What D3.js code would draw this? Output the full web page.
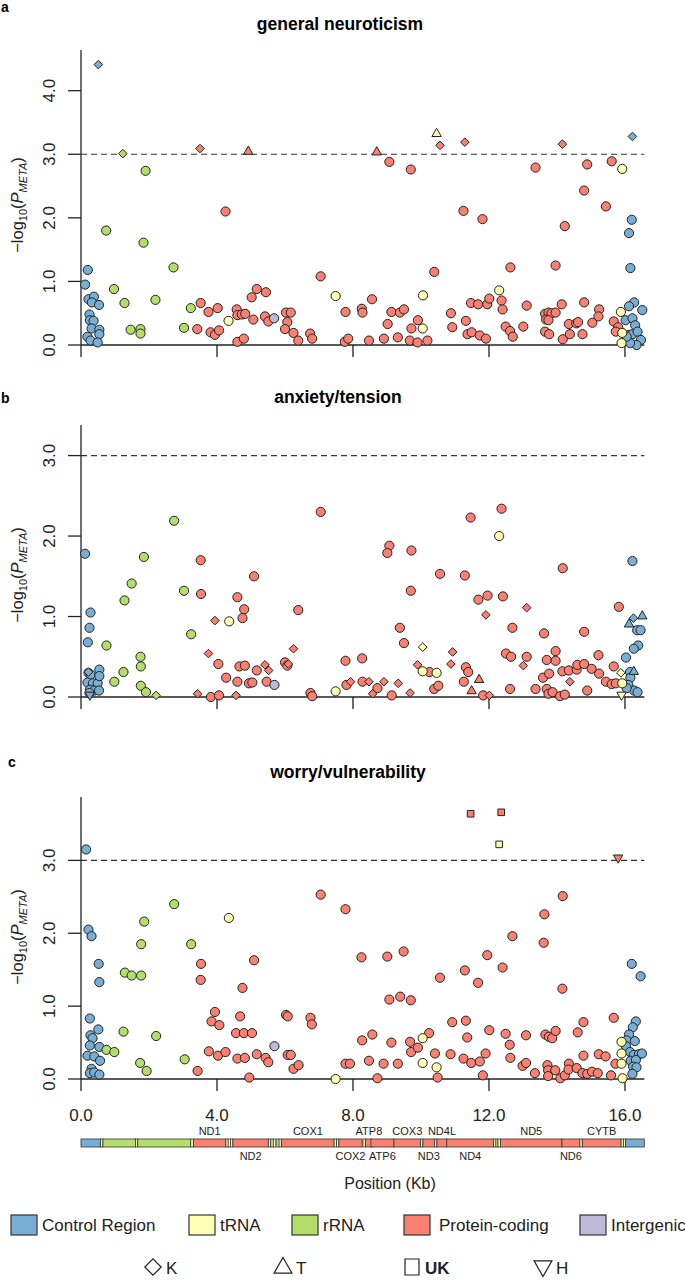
<!DOCTYPE html>
<html>
<head>
<meta charset="utf-8">
<script src="https://d3js.org/d3.v7.min.js"></script>
<style>
  body { margin: 0; background: #fff; }
  svg { display: block; font-family: "Liberation Sans", Arial, sans-serif; }
</style>
</head>
<body>
<svg id="chart" width="685" height="1280"></svg>
<script>
// ---- data ----
var regionKeys = ["C", "t", "r", "P", "I"];
var regionNames = ["Control Region", "tRNA", "rRNA", "Protein-coding", "Intergenic"];
var regionColors = ["#78aed6", "#ffffb3", "#b3de69", "#fb8072", "#bebada"];
var haploKeys = ["K", "T", "U", "H"];
var haploNames = ["K", "T", "UK", "H"];
var panelTitles = ["general neuroticism", "anxiety/tension", "worry/vulnerability"];
var panelLetters = ["a", "b", "c"];
var yMaxes = [4.64, 3.38, 3.87];
var yTickSets = [[0, 1, 2, 3, 4], [0, 1, 2, 3], [0, 1, 2, 3]];
var xTicks = [0, 4, 8, 12, 16];
var genomeKb = 16.569;
var threshold = 3;

// groups of [position Kb, -log10 P]; region C/t/r/P/I, marker o (circle) K T U H
var neuroticism = [
  {region: "C", marker: "o", pts: [[0.20,1.18],[0.12,0.95],[0.22,0.72],[0.38,0.76],[0.32,0.67],[0.53,0.63],[0.25,0.48],[0.26,0.39],[0.37,0.38],[0.31,0.26],[0.54,0.24],[0.54,0.17],[0.19,0.13],[0.28,0.07],[0.49,0.04],
    [16.20,1.97],[16.12,1.76],[16.16,1.21],[16.27,0.67],[16.12,0.61],[16.51,0.55],[16.02,0.39],[16.22,0.42],[16.30,0.31],[16.12,0.16],[16.22,0.17],[16.37,0.21],[16.47,0.08],[16.34,0.00],[16.15,0.03],[16.05,0.13]]},
  {region: "r", marker: "o", pts: [[1.90,2.74],[0.74,1.80],[1.84,1.61],[2.72,1.22],[0.97,0.88],[1.28,0.66],[2.19,0.71],[3.23,0.58],[1.46,0.24],[1.75,0.25],[1.75,0.18],[3.03,0.27]]},
  {region: "P", marker: "o", pts: [[4.25,2.10],[7.05,1.08],[3.52,0.66],[3.75,0.52],[4.02,0.58],[3.42,0.25],[3.81,0.20],[3.94,0.16],[4.06,0.23],[5.17,0.88],[5.44,0.83],[5.02,0.75],[4.58,0.56],[4.60,0.47],[4.73,0.48],[4.83,0.49],[5.07,0.40],[5.41,0.45],[5.51,0.37],[6.03,0.51],[6.17,0.51],[6.07,0.36],[6.00,0.25],[6.25,0.19],[6.39,0.07],[6.74,0.18],[6.80,0.10],[4.60,0.05],[4.79,0.10],[7.78,0.52],[7.76,0.05],[7.86,0.10],
    [9.07,2.88],[9.70,2.76],[13.37,2.79],[14.89,2.84],[15.61,2.89],[14.80,2.43],[15.44,2.18],[11.25,2.11],[11.81,1.98],[14.23,1.87],[10.39,1.15],[12.63,1.22],[13.96,1.25],[8.56,0.72],[8.26,0.57],[8.28,0.51],[9.13,0.52],[9.38,0.51],[9.50,0.56],[9.91,0.39],[9.02,0.33],[9.72,0.26],[8.91,0.10],[9.32,0.12],[9.67,0.07],[8.47,0.07],[9.90,0.04],[10.19,0.07],[10.88,0.50],[10.92,0.28],[11.32,0.38],[11.47,0.66],[11.68,0.64],[11.95,0.64],[12.01,0.73],[12.37,0.70],[12.40,0.56],[11.37,0.17],[11.49,0.20],[11.73,0.15],[11.91,0.10],[12.49,0.29],[12.62,0.22],[12.70,0.13],[13.01,0.29],[13.11,0.62],[13.65,0.49],[13.75,0.51],[13.84,0.50],[13.96,0.51],[13.68,0.40],[13.75,0.39],[13.65,0.21],[13.77,0.17],[14.14,0.64],[14.35,0.33],[14.57,0.34],[14.62,0.36],[14.17,0.09],[14.38,0.17],[14.75,0.17],[14.80,0.67],[15.24,0.56],[15.22,0.45],[15.04,0.35],[15.67,0.37],[15.80,0.28],[15.73,0.21]]},
  {region: "t", marker: "o", pts: [[4.34,0.38],[7.49,0.77],[15.92,2.77],[12.30,0.86],[10.06,0.78],[10.05,0.26],[15.88,0.52],[15.92,0.19],[15.90,0.03]]},
  {region: "I", marker: "o", pts: [[5.68,0.42]]},
  {region: "C", marker: "K", pts: [[0.51,4.41],[16.22,3.28]]},
  {region: "r", marker: "K", pts: [[1.23,3.01]]},
  {region: "P", marker: "K", pts: [[3.50,3.09],[10.56,3.14],[11.29,3.19],[14.16,3.16]]},
  {region: "P", marker: "T", pts: [[4.92,3.05],[8.70,3.04]]},
  {region: "t", marker: "T", pts: [[10.46,3.33]]}
];

var anxiety = [
  {region: "C", marker: "o", pts: [[0.12,1.78],[0.28,1.05],[0.25,0.86],[0.20,0.68],[0.22,0.30],[0.28,0.28],[0.54,0.34],[0.19,0.18],[0.35,0.17],[0.49,0.17],[0.54,0.26],[0.26,0.09],[0.39,0.08],[0.53,0.08],[0.25,0.05],
    [16.22,1.69],[16.36,0.83],[16.46,0.83],[16.39,0.64],[16.26,0.60],[16.03,0.49],[16.15,0.31],[16.16,0.24],[16.10,0.15],[16.27,0.08],[16.37,0.06],[16.05,0.11]]},
  {region: "r", marker: "o", pts: [[2.74,2.19],[1.85,1.74],[1.49,1.41],[1.28,1.20],[3.03,1.32],[3.24,0.78],[0.75,0.64],[1.75,0.50],[1.76,0.38],[1.25,0.31],[0.98,0.19],[1.76,0.14],[1.91,0.06]]},
  {region: "P", marker: "o", pts: [[3.52,1.70],[3.53,1.28],[5.09,1.50],[4.60,1.24],[4.80,1.09],[4.75,0.98],[6.39,1.08],[7.05,2.30],[4.04,0.41],[4.27,0.24],[4.60,0.19],[4.66,0.38],[4.82,0.39],[5.17,0.33],[4.94,0.17],[5.04,0.18],[5.46,0.19],[6.00,0.43],[6.07,0.39],[3.82,0.00],[4.06,0.02],[6.75,0.05],[6.80,0.01],[7.78,0.45],[7.81,0.15],
    [11.46,2.23],[12.37,2.34],[9.07,1.88],[9.01,1.79],[9.72,1.82],[10.56,1.53],[11.29,1.51],[9.70,1.32],[14.17,1.60],[11.69,1.21],[11.96,1.26],[12.41,1.25],[9.38,0.86],[12.69,0.86],[9.50,0.67],[13.62,0.79],[14.80,0.81],[15.82,1.12],[12.50,0.54],[12.65,0.50],[13.11,0.50],[13.96,0.57],[13.70,0.46],[13.96,0.45],[15.22,0.52],[8.27,0.48],[11.32,0.37],[11.39,0.31],[10.25,0.31],[13.59,0.24],[13.77,0.29],[14.16,0.32],[14.35,0.33],[14.58,0.34],[14.60,0.40],[14.80,0.41],[15.02,0.35],[15.24,0.29],[15.44,0.19],[15.61,0.16],[15.73,0.17],[15.67,0.38],[8.28,0.19],[8.72,0.11],[9.14,0.02],[10.39,0.10],[10.51,0.14],[11.26,0.19],[11.83,0.02],[12.62,0.10],[13.37,0.10],[13.70,0.10],[13.75,0.04],[13.87,0.06],[14.09,0.01],[14.23,0.03],[14.89,0.08]]},
  {region: "t", marker: "o", pts: [[4.36,0.94],[7.49,0.07],[12.30,2.00],[10.05,0.32],[10.46,0.30],[15.92,0.17]]},
  {region: "I", marker: "o", pts: [[5.69,0.15]]},
  {region: "C", marker: "K", pts: [[0.22,0.31],[16.25,0.98]]},
  {region: "C", marker: "T", pts: [[16.51,1.01],[16.12,0.91],[16.26,0.32]]},
  {region: "C", marker: "H", pts: [[0.26,0.02]]},
  {region: "r", marker: "K", pts: [[2.21,0.02]]},
  {region: "P", marker: "K", pts: [[3.94,0.95],[3.75,0.54],[6.25,0.60],[5.41,0.40],[5.52,0.33],[6.10,0.41],[3.43,0.04],[4.56,0.02],[7.93,0.19],[13.11,1.11],[11.91,1.02],[10.93,0.56],[9.90,0.40],[10.88,0.41],[13.01,0.39],[14.38,0.19],[8.47,0.19],[8.91,0.19],[9.33,0.17],[8.58,0.04],[9.68,0.05],[12.01,0.02]]},
  {region: "P", marker: "T", pts: [[11.71,0.22],[11.49,0.08]]},
  {region: "t", marker: "K", pts: [[10.05,0.62],[15.88,0.30]]},
  {region: "t", marker: "H", pts: [[15.90,0.02]]}
];

var worry = [
  {region: "C", marker: "o", pts: [[0.15,3.15],[0.22,2.05],[0.31,1.96],[0.52,1.58],[0.54,1.33],[0.26,0.83],[0.51,0.68],[0.28,0.60],[0.34,0.56],[0.26,0.46],[0.54,0.44],[0.19,0.32],[0.39,0.31],[0.56,0.25],[0.31,0.14],[0.26,0.08],[0.39,0.09],[0.54,0.06],
    [16.20,1.58],[16.46,1.41],[16.32,0.79],[16.23,0.71],[16.12,0.61],[16.05,0.53],[16.03,0.45],[16.29,0.52],[16.15,0.37],[16.26,0.33],[16.41,0.34],[16.50,0.35],[16.17,0.25],[16.32,0.26],[16.24,0.17],[16.34,0.16],[16.22,0.07]]},
  {region: "r", marker: "o", pts: [[2.74,2.40],[1.86,2.16],[1.77,1.85],[3.24,1.85],[1.29,1.46],[1.49,1.42],[1.77,1.42],[1.25,0.65],[2.21,0.59],[0.75,0.40],[0.98,0.37],[1.74,0.22],[1.93,0.11],[3.05,0.27]]},
  {region: "P", marker: "o", pts: [[7.05,2.53],[7.78,2.33],[3.53,1.58],[3.52,1.36],[5.09,1.63],[4.75,1.25],[3.94,0.92],[3.84,0.79],[4.07,0.74],[4.68,0.86],[6.03,0.88],[6.08,0.86],[6.75,0.84],[6.79,0.75],[4.56,0.63],[4.79,0.63],[5.03,0.63],[3.76,0.38],[4.03,0.32],[4.25,0.37],[4.60,0.28],[4.82,0.29],[5.17,0.34],[5.43,0.29],[5.51,0.23],[6.08,0.33],[6.17,0.33],[6.25,0.14],[6.40,0.19],[7.78,0.21],[7.91,0.21],[3.43,0.11],[4.95,0.02],
    [14.17,2.51],[13.63,2.26],[13.61,1.87],[12.69,1.96],[8.25,1.67],[9.01,1.68],[9.49,1.75],[11.95,1.70],[11.29,1.49],[12.40,1.53],[10.56,1.39],[11.68,1.32],[14.16,1.24],[9.07,1.09],[9.39,1.13],[9.70,1.08],[15.67,0.84],[10.92,0.78],[11.32,0.80],[14.78,0.78],[12.01,0.67],[12.49,0.62],[13.09,0.60],[13.66,0.61],[13.76,0.58],[13.86,0.56],[13.96,0.66],[14.61,0.64],[10.24,0.63],[8.57,0.61],[8.27,0.53],[9.13,0.50],[9.68,0.51],[11.36,0.57],[12.61,0.47],[9.71,0.37],[9.91,0.43],[8.47,0.25],[8.90,0.21],[9.32,0.21],[10.41,0.35],[10.87,0.34],[11.25,0.28],[11.48,0.22],[11.73,0.24],[11.90,0.35],[12.63,0.29],[12.99,0.18],[13.09,0.22],[13.35,0.08],[13.72,0.19],[13.74,0.12],[13.74,0.04],[13.95,0.12],[14.10,0.01],[14.23,0.05],[14.35,0.21],[14.34,0.13],[14.58,0.15],[14.78,0.32],[14.75,0.08],[14.89,0.07],[15.03,0.10],[15.20,0.08],[15.23,0.34],[15.43,0.31],[15.59,0.05],[15.72,0.21],[8.72,0.01],[10.49,0.02],[11.82,0.05]]},
  {region: "t", marker: "o", pts: [[4.35,2.21],[7.49,0.00],[10.05,0.56],[10.05,0.22],[10.46,0.16],[15.90,0.51],[15.90,0.35],[15.90,0.21],[15.93,0.01]]},
  {region: "I", marker: "o", pts: [[5.69,0.45]]},
  {region: "P", marker: "U", pts: [[11.46,3.64],[12.36,3.66]]},
  {region: "t", marker: "U", pts: [[12.30,3.22]]},
  {region: "P", marker: "H", pts: [[15.80,3.03]]}
];

// mitochondrial genome map (bp)
var geneNames = ["CR1","F","12S","V","16S","L1","ND1","I","Q","M","ND2","W","A","N","C","Y","COX1","S1","D","COX2","K","ATP8","ATP6","COX3","G","ND3","R","ND4L","ND4","H","S2","L2","ND5","ND6","E","CYTB","T","P","CR2"];
var geneStarts = [1,577,648,1602,1671,3230,3307,4263,4329,4402,4470,5512,5587,5657,5761,5826,5904,7446,7518,7586,8295,8366,8527,9207,9991,10059,10405,10470,10760,12138,12207,12266,12337,14149,14674,14747,15888,15956,16024];
var geneEnds = [576,647,1601,1670,3229,3304,4262,4331,4400,4469,5511,5579,5655,5729,5826,5891,7445,7514,7585,8269,8364,8572,9207,9990,10058,10404,10469,10766,12137,12206,12265,12336,14148,14673,14742,15887,15953,16023,16569];
var geneTypes = ["C","t","r","t","r","t","P","t","t","t","P","t","t","t","t","t","P","t","t","P","t","P","P","P","t","P","t","P","P","t","t","t","P","P","t","P","t","t","C"];
var labelsAbove = ["ND1","COX1","ATP8","COX3","ND4L","ND5","CYTB"];
var labelsBelow = ["ND2","COX2","ATP6","ND3","ND4","ND6"];

// ---- layout ----
var svg = d3.select("#chart");
var colorOf = d3.scaleOrdinal().domain(regionKeys).range(regionColors);
var x = d3.scaleLinear().domain([0, genomeKb]).range([81, 644.3]);

var panels = [
  {data: neuroticism, top: 50, bottom: 345, titleX: 340, titleY: 30, letterX: 1, letterY: 12, labelY: 205},
  {data: anxiety, top: 425, bottom: 697, titleX: 338, titleY: 403, letterX: 1, letterY: 403, labelY: 575},
  {data: worry, top: 797, bottom: 1079, titleX: 348, titleY: 778, letterX: 8, letterY: 767, labelY: 937}
];

function markerPath(m, big) {
  var s = big ? 1.9 : 1;
  if (m === "K") { var r = 4.3 * s; return "M0," + (-r) + "L" + r + ",0L0," + r + "L" + (-r) + ",0Z"; }
  if (m === "T") { return "M0," + (-5 * s) + "L" + (4.7 * s) + "," + (3.2 * s) + "L" + (-4.7 * s) + "," + (3.2 * s) + "Z"; }
  if (m === "H") { return "M0," + (5 * s) + "L" + (4.7 * s) + "," + (-3.2 * s) + "L" + (-4.7 * s) + "," + (-3.2 * s) + "Z"; }
  if (m === "U") { var h = 3.3 * s; return "M" + (-h) + "," + (-h) + "H" + h + "V" + h + "H" + (-h) + "Z"; }
  return d3.symbol(d3.symbolCircle, 66)();
}

panels.forEach(function(p, i) {
  var y = d3.scaleLinear().domain([0, yMaxes[i]]).range([p.bottom, p.top]);
  var g = svg.append("g");

  g.append("text").attr("x", p.letterX).attr("y", p.letterY)
    .style("font-weight", "bold").style("font-size", "14px").text(panelLetters[i]);
  g.append("text").attr("x", p.titleX).attr("y", p.titleY).attr("text-anchor", "middle")
    .style("font-weight", "bold").style("font-size", "17.5px").text(panelTitles[i]);

  // y axis
  g.append("line").attr("x1", x(0)).attr("x2", x(0)).attr("y1", y(0)).attr("y2", y(yMaxes[i]))
    .attr("stroke", "#222").attr("stroke-width", 1.3);
  yTickSets[i].forEach(function(t) {
    g.append("line").attr("x1", 68).attr("x2", x(0)).attr("y1", y(t)).attr("y2", y(t))
      .attr("stroke", "#222").attr("stroke-width", 1.3);
    g.append("text").attr("transform", "translate(55," + y(t) + ") rotate(-90)")
      .attr("text-anchor", "middle").style("font-size", "17px").style("fill", "#222")
      .text(d3.format(".1f")(t));
  });

  // x axis
  g.append("line").attr("x1", x(0)).attr("x2", x(genomeKb)).attr("y1", y(0)).attr("y2", y(0))
    .attr("stroke", "#222").attr("stroke-width", 1.3);
  xTicks.forEach(function(t) {
    g.append("line").attr("x1", x(t)).attr("x2", x(t)).attr("y1", y(0)).attr("y2", y(0) + 12)
      .attr("stroke", "#222").attr("stroke-width", 1.3);
  });

  // y label
  var lab = g.append("text").attr("transform", "translate(23," + p.labelY + ") rotate(-90)")
    .attr("text-anchor", "middle").style("font-size", "16.5px").style("fill", "#222");
  lab.append("tspan").text("\u2212log");
  lab.append("tspan").attr("dy", 4).style("font-size", "11px").text("10");
  lab.append("tspan").attr("dy", -4).text("(");
  lab.append("tspan").style("font-style", "italic").text("P");
  lab.append("tspan").attr("dy", 4).style("font-style", "italic").style("font-size", "11px").text("META");
  lab.append("tspan").attr("dy", -4).text(")");

  // threshold
  g.append("line").attr("x1", x(0)).attr("x2", x(genomeKb)).attr("y1", y(threshold)).attr("y2", y(threshold))
    .attr("stroke", "#333").attr("stroke-width", 1.2).attr("stroke-dasharray", "6,4");

  // points
  p.data.forEach(function(grp) {
    g.append("g").selectAll("path").data(grp.pts).enter().append("path")
      .attr("transform", function(d) { return "translate(" + x(d[0]) + "," + y(d[1]) + ")"; })
      .attr("d", markerPath(grp.marker, false))
      .attr("fill", colorOf(grp.region)).attr("stroke", "#222").attr("stroke-width", 1);
  });
});

// x tick labels (bottom panel only)
xTicks.forEach(function(t) {
  svg.append("text").attr("x", x(t)).attr("y", 1121).attr("text-anchor", "middle")
    .style("font-size", "17px").style("fill", "#222").text(d3.format(".1f")(t));
});

// genome bar
var bar = svg.append("g");
bar.selectAll("rect").data(geneNames).enter().append("rect")
  .attr("x", function(d, i) { return x((geneStarts[i] - 1) / 1000); })
  .attr("width", function(d, i) { return x(geneEnds[i] / 1000) - x((geneStarts[i] - 1) / 1000); })
  .attr("y", 1139).attr("height", 8)
  .attr("fill", function(d, i) { return colorOf(geneTypes[i]); })
  .attr("stroke", "#333").attr("stroke-width", 0.8);
function geneMid(name) {
  var i = geneNames.indexOf(name);
  return x((geneStarts[i] + geneEnds[i]) / 2000);
}
labelsAbove.forEach(function(n) {
  bar.append("text").attr("x", geneMid(n)).attr("y", 1135).attr("text-anchor", "middle")
    .style("font-size", "11px").style("fill", "#222").text(n);
});
labelsBelow.forEach(function(n) {
  bar.append("text").attr("x", geneMid(n)).attr("y", 1160).attr("text-anchor", "middle")
    .style("font-size", "11px").style("fill", "#222").text(n);
});

svg.append("text").attr("x", 390).attr("y", 1189).attr("text-anchor", "middle")
  .style("font-size", "16px").style("fill", "#222").text("Position (Kb)");

// legends
var regionLegendX = [11, 189, 292, 404, 580];
regionNames.forEach(function(n, i) {
  svg.append("rect").attr("x", regionLegendX[i]).attr("y", 1215).attr("width", 26).attr("height", 20)
    .attr("fill", regionColors[i]).attr("stroke", "#333").attr("stroke-width", 1.2);
  svg.append("text").attr("x", regionLegendX[i] + 31 + (i === 3 ? 4 : 0)).attr("y", 1231)
    .style("font-size", "17px").style("fill", "#222").text(n);
});
var haploLegendX = [153, 283, 412, 543];
haploKeys.forEach(function(k, i) {
  svg.append("path").attr("transform", "translate(" + haploLegendX[i] + ",1267)")
    .attr("d", k === "U" ? "M-7,-8H7V8H-7Z" : markerPath(k, true))
    .attr("fill", "#fff").attr("stroke", "#222").attr("stroke-width", 1.2);
  svg.append("text").attr("x", haploLegendX[i] + 13).attr("y", 1274)
    .style("font-size", "17px").style("fill", "#222").style("font-weight", k === "U" ? "bold" : "normal")
    .text(haploNames[i]);
});
</script>
</body>
</html>
